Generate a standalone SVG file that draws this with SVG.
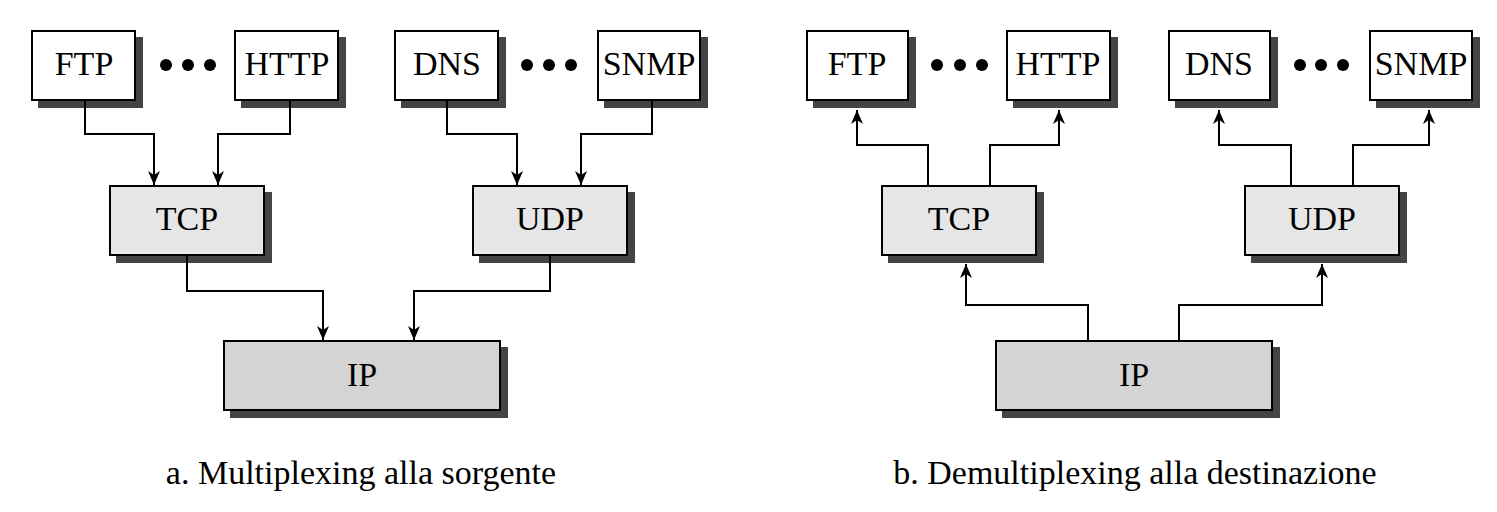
<svg xmlns="http://www.w3.org/2000/svg" width="1497" height="512" viewBox="0 0 1497 512">
<style>
.box{stroke:#000;stroke-width:2}
.app{fill:#fff}
.tr{fill:#e6e6e6}
.ip{fill:#d4d4d4}
.sh{fill:#444}
.lbl{font-family:"Liberation Serif","Times New Roman",serif;font-size:34px;fill:#000;text-anchor:middle}
.cap{font-family:"Liberation Serif","Times New Roman",serif;font-size:34px;fill:#000;text-anchor:middle}
.conn{fill:none;stroke:#000;stroke-width:2}
.dot{fill:#000}
</style>
<defs>
<marker id="arr" markerUnits="userSpaceOnUse" markerWidth="14" markerHeight="12" refX="14" refY="6" orient="auto" viewBox="0 0 14 12">
<path d="M0,0 L14,6 L0,12 L4,6 z" fill="#000"/>
</marker>
</defs>
<rect width="1497" height="512" fill="#fff"/>

<!-- Left part a -->
<g id="a-ftp"><rect class="sh" x="38" y="37" width="105" height="71"/><rect class="box app" x="32" y="31" width="103" height="69"/><text class="lbl" x="84" y="75">FTP</text></g>
<g id="a-http"><rect class="sh" x="241" y="37" width="105" height="71"/><rect class="box app" x="235" y="31" width="103" height="69"/><text class="lbl" x="287" y="75">HTTP</text></g>
<g id="a-dns"><rect class="sh" x="401" y="37" width="105" height="71"/><rect class="box app" x="395" y="31" width="103" height="69"/><text class="lbl" x="447" y="75">DNS</text></g>
<g id="a-snmp"><rect class="sh" x="604" y="37" width="104" height="71"/><rect class="box app" x="598" y="31" width="102" height="69"/><text class="lbl" x="649" y="75">SNMP</text></g>
<g id="a-dots1"><circle class="dot" cx="166" cy="65" r="6"/><circle class="dot" cx="188" cy="65" r="6"/><circle class="dot" cx="210" cy="65" r="6"/></g>
<g id="a-dots2"><circle class="dot" cx="527" cy="65" r="6"/><circle class="dot" cx="549" cy="65" r="6"/><circle class="dot" cx="571" cy="65" r="6"/></g>
<g id="a-tcp"><rect class="sh" x="116" y="192" width="156" height="71"/><rect class="box tr" x="110" y="186" width="154" height="69"/><text class="lbl" x="187" y="230">TCP</text></g>
<g id="a-udp"><rect class="sh" x="479" y="192" width="156" height="71"/><rect class="box tr" x="473" y="186" width="154" height="69"/><text class="lbl" x="550" y="230">UDP</text></g>
<g id="a-ip"><rect class="sh" x="230" y="347" width="278" height="71"/><rect class="box ip" x="224" y="341" width="276" height="69"/><text class="lbl" x="362" y="386">IP</text></g>

<!-- Right part b -->
<g id="b-ftp"><rect class="sh" x="813" y="37" width="103" height="71"/><rect class="box app" x="807" y="31" width="101" height="69"/><text class="lbl" x="857" y="75">FTP</text></g>
<g id="b-http"><rect class="sh" x="1013" y="37" width="105" height="71"/><rect class="box app" x="1007" y="31" width="103" height="69"/><text class="lbl" x="1058" y="75">HTTP</text></g>
<g id="b-dns"><rect class="sh" x="1175" y="37" width="103" height="71"/><rect class="box app" x="1169" y="31" width="101" height="69"/><text class="lbl" x="1219" y="75">DNS</text></g>
<g id="b-snmp"><rect class="sh" x="1376" y="37" width="104" height="71"/><rect class="box app" x="1370" y="31" width="102" height="69"/><text class="lbl" x="1421" y="75">SNMP</text></g>
<g id="b-dots1"><circle class="dot" cx="937" cy="65" r="6"/><circle class="dot" cx="960" cy="65" r="6"/><circle class="dot" cx="982" cy="65" r="6"/></g>
<g id="b-dots2"><circle class="dot" cx="1300" cy="65" r="6"/><circle class="dot" cx="1321" cy="65" r="6"/><circle class="dot" cx="1343" cy="65" r="6"/></g>
<g id="b-tcp"><rect class="sh" x="888" y="192" width="156" height="71"/><rect class="box tr" x="882" y="186" width="154" height="69"/><text class="lbl" x="959" y="230">TCP</text></g>
<g id="b-udp"><rect class="sh" x="1251" y="192" width="156" height="71"/><rect class="box tr" x="1245" y="186" width="154" height="69"/><text class="lbl" x="1322" y="230">UDP</text></g>
<g id="b-ip"><rect class="sh" x="1002" y="347" width="278" height="71"/><rect class="box ip" x="996" y="341" width="276" height="69"/><text class="lbl" x="1134" y="386">IP</text></g>

<g id="connectors">
<path class="conn" marker-end="url(#arr)" d="M85 101 V134 H154 V185"/>
<path class="conn" marker-end="url(#arr)" d="M290 101 V134 H218 V185"/>
<path class="conn" marker-end="url(#arr)" d="M447 101 V134 H517 V185"/>
<path class="conn" marker-end="url(#arr)" d="M652 101 V134 H581 V185"/>
<path class="conn" marker-end="url(#arr)" d="M187 256 V291 H323 V340"/>
<path class="conn" marker-end="url(#arr)" d="M550 256 V291 H414 V340"/>
<path class="conn" marker-end="url(#arr)" d="M928 185 V145 H857 V110"/>
<path class="conn" marker-end="url(#arr)" d="M990 185 V145 H1059 V110"/>
<path class="conn" marker-end="url(#arr)" d="M1291 185 V145 H1219 V110"/>
<path class="conn" marker-end="url(#arr)" d="M1353 185 V145 H1429 V110"/>
<path class="conn" marker-end="url(#arr)" d="M1088 340 V305 H966 V264"/>
<path class="conn" marker-end="url(#arr)" d="M1179 340 V305 H1322 V264"/>
</g>

<text class="cap" x="361" y="484">a. Multiplexing alla sorgente</text>
<text class="cap" x="1135" y="484">b. Demultiplexing alla destinazione</text>
</svg>
